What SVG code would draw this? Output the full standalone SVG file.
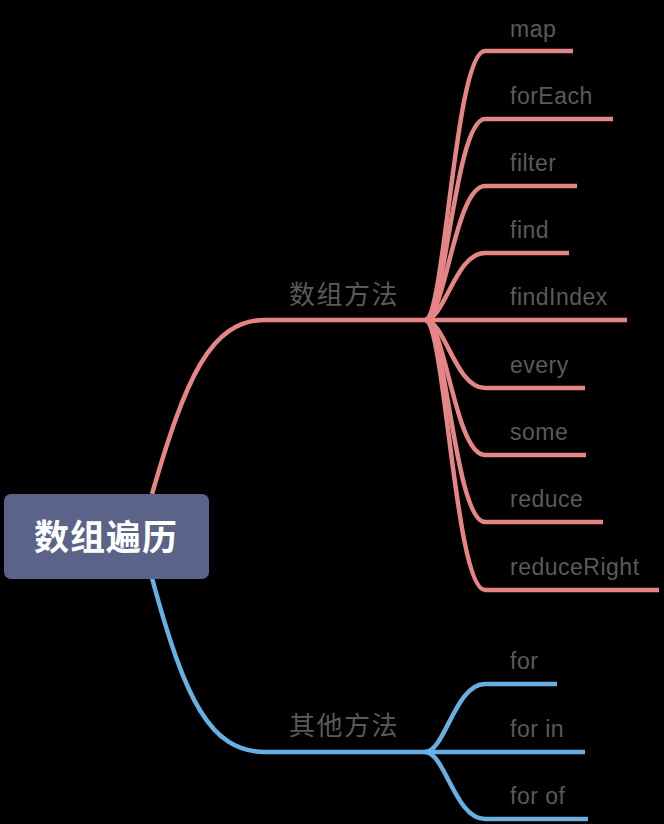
<svg xmlns="http://www.w3.org/2000/svg" width="664" height="824" viewBox="0 0 664 824">
<style>
.red{fill:none;stroke:#e68585;stroke-width:4.5}
.blue{fill:none;stroke:#68b0e2;stroke-width:4.5}
.leaf{font-family:"Liberation Sans",Arial,sans-serif;font-size:23px;letter-spacing:0.5px;fill:#5a5a5a}
.sub{font-family:"Noto Sans CJK SC",sans-serif;font-size:26px;letter-spacing:1.5px;fill:#5a5a5a}
.root{font-family:"Noto Sans CJK SC",sans-serif;font-size:35px;font-weight:bold;fill:#ffffff}
</style>
<rect width="664" height="824" fill="#000000"/>
<g id="connectors">
<path class="red" d="M152,494 C185,380 210,320 265,320 H425"/>
<path class="blue" d="M152,578 C185,700 210,752 265,752 H425"/>
<path class="red" d="M425,320 C445,320 455,51 485,51 H573"/>
<path class="red" d="M425,320 C445,320 455,119 485,119 H613"/>
<path class="red" d="M425,320 C445,320 455,186 485,186 H577"/>
<path class="red" d="M425,320 C445,320 455,253 485,253 H569"/>
<path class="red" d="M425,320 H627"/>
<path class="red" d="M425,320 C445,320 455,388 485,388 H585"/>
<path class="red" d="M425,320 C445,320 455,455 485,455 H586"/>
<path class="red" d="M425,320 C445,320 455,522 485,522 H603"/>
<path class="red" d="M425,320 C445,320 455,590 485,590 H659"/>
<path class="blue" d="M425,752 C445,752 455,684 485,684 H557"/>
<path class="blue" d="M425,752 H585"/>
<path class="blue" d="M425,752 C445,752 455,819 485,819 H588"/>
</g>
<g id="root">
<rect x="4" y="494" width="205" height="85" rx="7" fill="#5c6389"/>
<text class="root" x="106" y="550" text-anchor="middle" letter-spacing="1">数组遍历</text>
</g>
<g id="arr"><text class="sub" x="289" y="304">数组方法</text></g>
<g id="other"><text class="sub" x="289" y="735">其他方法</text></g>
<g id="map"><text class="leaf" x="510" y="37">map</text></g>
<g id="forEach"><text class="leaf" x="510" y="104">forEach</text></g>
<g id="filter"><text class="leaf" x="510" y="171">filter</text></g>
<g id="find"><text class="leaf" x="510" y="238">find</text></g>
<g id="findIndex"><text class="leaf" x="510" y="305">findIndex</text></g>
<g id="every"><text class="leaf" x="510" y="373">every</text></g>
<g id="some"><text class="leaf" x="510" y="440">some</text></g>
<g id="reduce"><text class="leaf" x="510" y="507">reduce</text></g>
<g id="reduceRight"><text class="leaf" x="510" y="575">reduceRight</text></g>
<g id="for"><text class="leaf" x="510" y="669">for</text></g>
<g id="forin"><text class="leaf" x="510" y="737">for in</text></g>
<g id="forof"><text class="leaf" x="510" y="804">for of</text></g>
</svg>
